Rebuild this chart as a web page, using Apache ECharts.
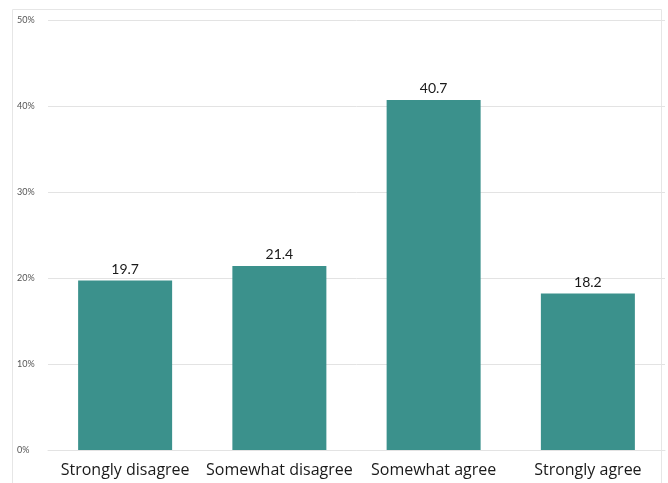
<!DOCTYPE html>
<html>
<head>
<meta charset="utf-8">
<script src="https://cdn.jsdelivr.net/npm/echarts@6/dist/echarts.min.js"></script>
<style>
  html, body { margin: 0; padding: 0; background: #ffffff; }
  #chart { width: 668px; height: 483px; }
</style>
</head>
<body>
<div id="chart"></div>
<script>
// Survey response shares (percent)
const categories = ['Strongly disagree', 'Somewhat disagree', 'Somewhat agree', 'Strongly agree'];
const shares = [19.7, 21.4, 40.7, 18.2];
const yTicks = [0, 10, 20, 30, 40, 50];

const chart = echarts.init(document.getElementById('chart'), null, { renderer: 'canvas' });

chart.setOption({
  animation: false,
  backgroundColor: '#ffffff',
  graphic: [{
    type: 'rect',
    shape: { x: 12.5, y: 9.5, width: 649, height: 490 },
    style: { fill: 'none', stroke: '#e6e6e6', lineWidth: 1 },
    silent: true,
    z: -1
  }],
  grid: { left: 48, right: 3, top: 20, bottom: 33, containLabel: false },
  xAxis: {
    type: 'category',
    data: categories,
    axisLine: { show: true, lineStyle: { color: '#e3e3e3', width: 1 } },
    axisTick: { show: false },
    axisLabel: {
      color: '#1a1a1a',
      fontFamily: '"Open Sans", Lato, sans-serif',
      fontSize: 16,
      margin: 12,
      interval: 0
    }
  },
  yAxis: {
    type: 'value',
    min: yTicks[0],
    max: yTicks[yTicks.length - 1],
    interval: 10,
    axisLine: { show: false },
    axisTick: { show: false },
    splitLine: { lineStyle: { color: '#e3e3e3', width: 1 } },
    axisLabel: {
      color: '#555555',
      fontFamily: 'Lato, "Open Sans", sans-serif',
      fontSize: 9,
      align: 'left',
      margin: 31,
      formatter: v => v + '%'
    }
  },
  series: [{
    type: 'bar',
    data: shares,
    barWidth: 94,
    itemStyle: { color: '#3b918c' },
    label: {
      show: true,
      position: 'top',
      distance: 4,
      color: '#1a1a1a',
      fontFamily: 'Lato, "Open Sans", sans-serif',
      fontSize: 14,
      formatter: p => p.value.toFixed(1)
    }
  }]
});
</script>
</body>
</html>
